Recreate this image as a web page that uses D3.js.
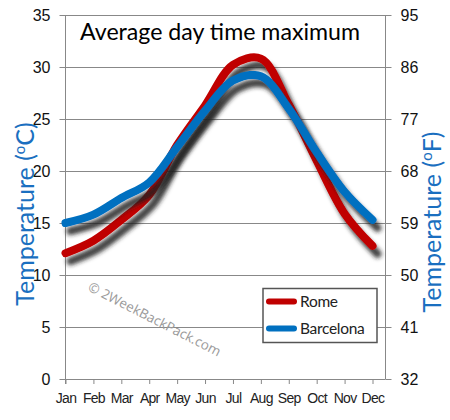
<!DOCTYPE html>
<html><head><meta charset="utf-8">
<script src="https://cdn.jsdelivr.net/npm/d3@7"></script>
<style>
html,body{margin:0;padding:0;background:#fff;}
svg{display:block;font-family:Lato,"DejaVu Sans",sans-serif;}
</style></head>
<body>
<svg id="chart" width="450" height="420"></svg>
<script>
const months = ["Jan","Feb","Mar","Apr","May","Jun","Jul","Aug","Sep","Oct","Nov","Dec"];
const rome = [12.1, 13.3, 15.3, 17.7, 22.5, 26.3, 30.2, 30.8, 26.4, 21.0, 15.9, 12.8];
const barcelona = [15.0, 15.8, 17.4, 18.9, 22.3, 25.8, 28.7, 29.1, 26.0, 21.8, 18.0, 15.3];
const celsiusTicks = [0, 5, 10, 15, 20, 25, 30, 35];
const fahrenheitTicks = [32, 41, 50, 59, 68, 77, 86, 95];
const seriesNames = ["Rome", "Barcelona"];
const seriesColors = ["#c00000", "#0070c0"];
const titleText = "Average day time maximum";

const svg = d3.select("#chart");
const L = 65.5, R = 385.5, T = 15, B = 379;
const x = d3.scalePoint().domain(months).range([65.5, 372.5]);
const y = d3.scaleLinear().domain([0, 35]).range([B, T]);
const yF = d3.scaleLinear().domain([32, 95]).range([B, T]);

const defs = svg.append("defs");
const f = defs.append("filter").attr("id","shadow").attr("x","-10%").attr("y","-10%").attr("width","130%").attr("height","130%");
f.append("feDropShadow").attr("dx",5).attr("dy",8).attr("stdDeviation",2.2)
  .attr("flood-color","#222").attr("flood-opacity",0.85);

const grid = "#888";
const yAxisL = d3.axisLeft(y).tickValues(celsiusTicks).tickSize(6).tickPadding(10);
const gL = svg.append("g").attr("transform",`translate(${L},0)`).call(yAxisL);
gL.select(".domain").attr("stroke",grid).attr("d",`M0,${T}V${B+5}`);
gL.selectAll(".tick line").attr("stroke",grid);
gL.selectAll(".tick text").attr("fill","#111").attr("font-size",16).attr("x",-15);

svg.append("g").selectAll("line").data(celsiusTicks).join("line")
  .attr("x1",L).attr("x2",R).attr("y1",d=>Math.round(y(d))+0.5).attr("y2",d=>Math.round(y(d))+0.5)
  .attr("stroke",grid).attr("stroke-width",1);

const yAxisR = d3.axisRight(yF).tickValues(fahrenheitTicks).tickSize(6).tickPadding(9);
const gR = svg.append("g").attr("transform",`translate(${R},0)`).call(yAxisR);
gR.select(".domain").attr("stroke",grid).attr("d",`M0,${T}V${B}`);
gR.selectAll(".tick line").attr("stroke",grid);
gR.selectAll(".tick text").attr("fill","#111").attr("font-size",16).attr("x",15);

const xAxis = d3.axisBottom(x).tickSize(5).tickPadding(9);
const gX = svg.append("g").attr("transform",`translate(0,${B})`).call(xAxis);
gX.select(".domain").remove();
gX.selectAll(".tick line").attr("stroke",grid);
gX.selectAll(".tick text").attr("fill","#222").attr("font-size",14).attr("letter-spacing",-0.7);

svg.append("text").attr("transform","translate(87,290) rotate(27)")
  .attr("font-family","'Open Sans',sans-serif").attr("font-size",13.5).attr("fill","#9a9a9a")
  .text("\u00a9 2WeekBackPack.com");

svg.append("text").attr("x",80).attr("y",40).attr("font-size",24).attr("fill","#000")
  .attr("textLength",280).attr("lengthAdjust","spacingAndGlyphs").text(titleText);

const lt = svg.append("text").attr("transform","translate(34,214) rotate(-90)")
  .attr("text-anchor","middle").attr("font-size",25).attr("fill","#1a6fc0");
lt.append("tspan").text("Temperature (");
lt.append("tspan").attr("font-size",15).attr("baseline-shift","9").text("o");
lt.append("tspan").text("C)");
const rt = svg.append("text").attr("transform","translate(441,222) rotate(-90)")
  .attr("text-anchor","middle").attr("font-size",25).attr("fill","#1a6fc0");
rt.append("tspan").text("Temperature (");
rt.append("tspan").attr("font-size",15).attr("baseline-shift","9").text("o");
rt.append("tspan").text("F)");

const line = d3.line().x((d,i)=>x(months[i])).y(d=>y(d)).curve(d3.curveCatmullRom.alpha(0.5));
[rome, barcelona].forEach((s,i)=>{
  svg.append("path").attr("d",line(s)).attr("fill","none").attr("stroke",seriesColors[i])
    .attr("stroke-width",8).attr("stroke-linecap","round").attr("stroke-linejoin","round")
    .attr("filter","url(#shadow)");
});

const lg = svg.append("g");
lg.append("rect").attr("x",263).attr("y",288.5).attr("width",114).attr("height",54)
  .attr("fill","#fff").attr("stroke","#555").attr("stroke-width",1.5);
seriesNames.forEach((n,i)=>{
  const yy = 301.5 + i*27;
  lg.append("line").attr("x1",269).attr("x2",294).attr("y1",yy).attr("y2",yy)
    .attr("stroke",seriesColors[i]).attr("stroke-width",6).attr("stroke-linecap","round");
  lg.append("text").attr("x",300).attr("y",yy+5.5).attr("font-size",15.5).attr("fill","#222")
    .attr("letter-spacing",-0.3).text(n);
});
</script>
</body></html>
